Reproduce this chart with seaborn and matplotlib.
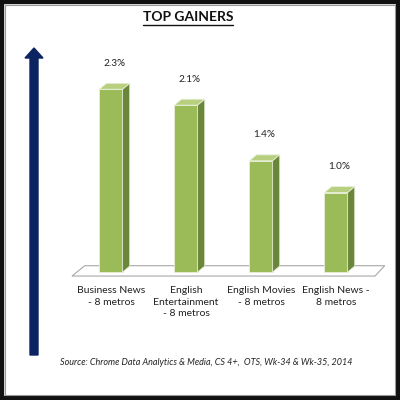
import matplotlib
matplotlib.use("Agg")
import matplotlib.pyplot as plt
import seaborn as sns
import pandas as pd
from matplotlib.patches import Polygon, FancyArrow, Rectangle
from matplotlib.lines import Line2D

categories = ["Business News\n- 8 metros", "English\nEntertainment\n- 8 metros",
              "English Movies\n- 8 metros", "English News -\n8 metros"]
values = [2.3, 2.1, 1.4, 1.0]
value_labels = ["2.3%", "2.1%", "1.4%", "1.0%"]
title = "TOP GAINERS"
source = "Source: Chrome Data Analytics & Media, CS 4+,  OTS, Wk-34 & Wk-35, 2014"

front = "#9BBB59"
top_c = "#B7CF7F"
side_c = "#6A863A"
navy = "#0B2461"

sns.set_style("white")
plt.rcParams['font.family'] = ['Lato', 'DejaVu Sans']

df = pd.DataFrame({"cat": categories, "val": values})

fig = plt.figure(figsize=(4, 4), dpi=100)
ax = fig.add_axes([60 / 400, 0.296, 330 / 400, 0.604])
sns.barplot(data=df, x="cat", y="val", color=front, width=0.31, saturation=1,
            edgecolor="#e8f0d8", linewidth=0.6, ax=ax, zorder=3)
ax.set_xlim(-0.68, 3.72)
ax.set_ylim(-0.12, 2.92)

# floor plate
floor = Polygon([(-0.52, -0.05), (3.52, -0.05), (3.65, 0.08), (-0.35, 0.08)],
                closed=True, facecolor="white", edgecolor="#a8a8a8", lw=0.8, zorder=1)
ax.add_patch(floor)

# fake 3d top and side faces
dx, dy = 0.095, 0.075
for p, lab in zip(ax.patches[:len(values)], value_labels):
    x0, w, h = p.get_x(), p.get_width(), p.get_height()
    ax.add_patch(Polygon([(x0, h), (x0 + dx, h + dy), (x0 + w + dx, h + dy), (x0 + w, h)],
                         closed=True, facecolor=top_c, edgecolor="#e8f0d8", lw=0.6, zorder=3))
    ax.add_patch(Polygon([(x0 + w, 0), (x0 + w, h), (x0 + w + dx, h + dy), (x0 + w + dx, dy)],
                         closed=True, facecolor=side_c, edgecolor="#e8f0d8", lw=0.6, zorder=3))
    ax.text(x0 + w / 2 + dx / 2, h + 0.27, lab, ha="center", va="bottom", fontsize=7.2, color="#222222")

ax.set_xlabel("")
ax.set_ylabel("")
ax.set_yticks([])
ax.tick_params(axis="x", length=0, pad=3, labelsize=7.5, colors="#222222")
for lbl in ax.get_xticklabels():
    lbl.set_linespacing(1.4)
for s in ax.spines.values():
    s.set_visible(False)
ax.patch.set_alpha(0)

# arrow
fig.patches.append(FancyArrow(0.085, 0.1125, 0, 0.7675, width=0.02, head_width=0.045,
                              head_length=0.025, length_includes_head=True,
                              color=navy, transform=fig.transFigure, figure=fig))

# title with underline
t = fig.text(0.47, 0.957, title, ha="center", va="center", fontsize=10, fontweight="bold", color="#111111")
fig.canvas.draw()
bb = t.get_window_extent(renderer=fig.canvas.get_renderer()).transformed(fig.transFigure.inverted())
fig.add_artist(Line2D([bb.x0, bb.x1], [bb.y0 - 0.004, bb.y0 - 0.004], color="#111111", lw=1,
                      transform=fig.transFigure))

fig.text(0.515, 0.093, source, ha="center", va="center", fontsize=6.5, style="italic", color="#222222")

# border
fig.patches.append(Rectangle((0, 0), 1, 1, fill=False, edgecolor="#111111", lw=6,
                             transform=fig.transFigure, figure=fig))
fig.patches.append(Rectangle((0.012, 0.012), 0.976, 0.976, fill=False, edgecolor="#9a9a9a", lw=0.8,
                             transform=fig.transFigure, figure=fig))

fig.savefig("out.png", dpi=100)
